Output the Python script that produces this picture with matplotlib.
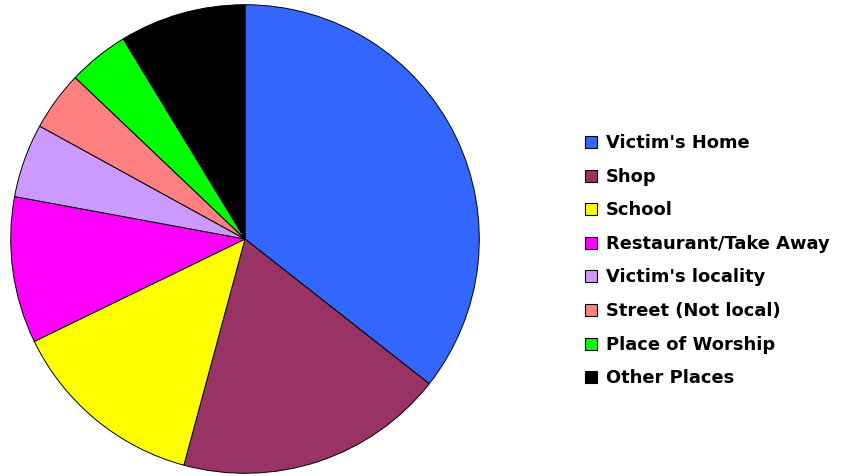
import matplotlib
matplotlib.use('Agg')
import matplotlib.pyplot as plt
from matplotlib.patches import Rectangle

# slice data (percent)
places = ["Victim's Home", 'Shop', 'School', 'Restaurant/Take Away',
          "Victim's locality", 'Street (Not local)', 'Place of Worship', 'Other Places']
shares = [35.6, 18.6, 13.6, 10.1, 5.1, 4.1, 4.2, 8.7]
colours = ['#3366ff', '#993366', '#ffff00', '#ff00ff',
           '#cc99ff', '#ff8080', '#00ff00', '#000000']

W, H = 842, 477
fig = plt.figure(figsize=(W / 100, H / 100), dpi=100)
fig.patch.set_facecolor('white')

# pie: centre (245, 240) px, radius 234 px
cx, cy, r = 245, 240, 235
ax = fig.add_axes([(cx - r) / W, (H - cy - r) / H, 2 * r / W, 2 * r / H])
ax.pie(shares, colors=colours, startangle=90, counterclock=False, radius=1,
       wedgeprops=dict(edgecolor='black', linewidth=0.7))
ax.set_xlim(-1.003, 1.003)
ax.set_ylim(-1.003, 1.003)
ax.set_aspect('equal')
ax.axis('off')

# legend drawn by hand to match spacing
y0, step = 143, 33.6
box = 12
for i, (lab, col) in enumerate(zip(places, colours)):
    y = y0 + i * step
    fig.patches.append(Rectangle((585 / W, (H - y - box / 2) / H), box / W, box / H,
                                 transform=fig.transFigure, facecolor=col,
                                 edgecolor='black', linewidth=0.8))
    fig.text(606 / W, (H - y) / H, lab, ha='left', va='center',
             fontsize=12.9, fontweight='bold', family='DejaVu Sans')

fig.savefig('out.png', dpi=100)
